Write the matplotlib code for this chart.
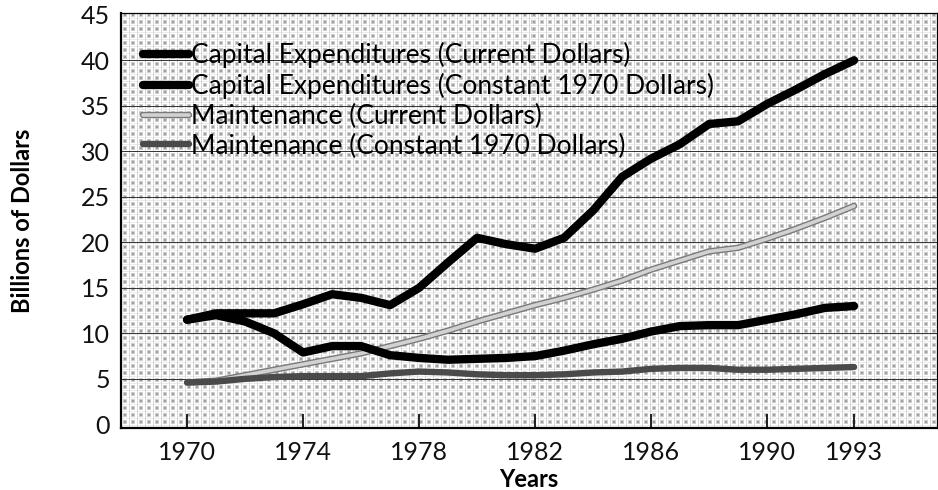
import numpy as np
import matplotlib
matplotlib.use("Agg")
import matplotlib.pyplot as plt
import matplotlib.patheffects as pe

plt.rcParams['font.family'] = ['Lato', 'DejaVu Sans']

years = list(range(1970, 1994))
capital_current = [11.5, 12.2, 12.2, 12.2, 13.2, 14.3, 13.9, 13.1, 15.0, 17.8,
                   20.5, 19.8, 19.3, 20.5, 23.5, 27.2, 29.2, 30.8, 33.0, 33.3,
                   35.2, 36.8, 38.5, 40.0]
capital_constant = [11.5, 12.0, 11.3, 10.0, 7.9, 8.6, 8.6, 7.6, 7.3, 7.1,
                    7.2, 7.3, 7.5, 8.1, 8.8, 9.4, 10.2, 10.8, 10.9, 10.9,
                    11.5, 12.1, 12.8, 13.0]
maint_current = [4.6, 4.8, 5.4, 6.0, 6.6, 7.2, 7.8, 8.6, 9.4, 10.3,
                 11.3, 12.2, 13.1, 13.9, 14.8, 15.8, 17.0, 18.0, 19.0, 19.4,
                 20.4, 21.5, 22.7, 24.0]
maint_constant = [4.6, 4.7, 5.0, 5.2, 5.3, 5.3, 5.3, 5.6, 5.8, 5.7,
                  5.5, 5.4, 5.4, 5.5, 5.7, 5.8, 6.1, 6.2, 6.2, 6.0,
                  6.0, 6.1, 6.2, 6.3]
series_labels = ["Capital Expenditures (Current Dollars)",
                 "Capital Expenditures (Constant 1970 Dollars)",
                 "Maintenance (Current Dollars)",
                 "Maintenance (Constant 1970 Dollars)"]
x_ticks = [1970, 1974, 1978, 1982, 1986, 1990, 1993]
y_ticks = list(range(0, 50, 5))

W, H = 938, 490
fig = plt.figure(figsize=(W / 100, H / 100), dpi=100)
left, right, top, bottom = 121, 937, 13, 428
ax = fig.add_axes([left / W, 1 - bottom / H, (right - left) / W, (bottom - top) / H])

# halftone-style screened background
aw, ah = right - left, bottom - top
cell = np.ones((7, 8))
cell[:, 0] = 0.84
cell[1:5, 2:6] = 0.80
cell[2:4, 3:5] = 0.62
cell[6, 1:] = 0.92
tex = np.tile(cell, (ah // 7 + 2, aw // 8 + 2))[:ah, :aw]
ax.imshow(tex, cmap='gray', vmin=0, vmax=1, extent=[0, 1, 0, 1],
          transform=ax.transAxes, aspect='auto', interpolation='nearest', zorder=0)

for y in y_ticks[1:-1]:
    ax.axhline(y, color='#333333', lw=0.7, zorder=1)

ax.plot(years, capital_current, color='black', lw=6.0, zorder=5,
        solid_capstyle='round', solid_joinstyle='round', label=series_labels[0])
ax.plot(years, capital_constant, color='black', lw=6.0, zorder=5,
        solid_capstyle='round', solid_joinstyle='round', label=series_labels[1])
ax.plot(years, maint_current, color='#d2d2d2', lw=2.6, zorder=4,
        solid_capstyle='round', label=series_labels[2],
        path_effects=[pe.Stroke(linewidth=4.6, foreground='#7a7a7a'), pe.Normal()])
ax.plot(years, maint_constant, color='#4a4a4a', lw=4.6, zorder=4,
        solid_capstyle='round', label=series_labels[3])

ax.set_xlim(1967.72, 1995.86)
ax.set_ylim(-0.4, 45.2)
ax.set_xticks(x_ticks)
ax.set_xticklabels([str(t) for t in x_ticks])
ax.set_yticks(y_ticks)
ax.tick_params(axis='x', direction='in', length=10, width=1.3, labelsize=18,
               pad=9, colors='#111111')
ax.tick_params(axis='y', length=0, labelsize=18, pad=8, colors='#111111')

for s in ['left', 'bottom']:
    ax.spines[s].set_linewidth(1.6)
for s in ['top', 'right']:
    ax.spines[s].set_linewidth(0.9)

ax.set_xlabel("Years", fontsize=17, fontweight='bold', labelpad=3)
ax.set_ylabel("Billions of Dollars", fontsize=17, fontweight='bold', labelpad=34)

leg = ax.legend(loc='upper left', bbox_to_anchor=(22 / aw, 1 - 29 / ah),
                frameon=False, fontsize=19, handlelength=1.75, handletextpad=0.05,
                borderpad=0, borderaxespad=0, labelspacing=0.18)

fig.savefig("out.png", dpi=100)
